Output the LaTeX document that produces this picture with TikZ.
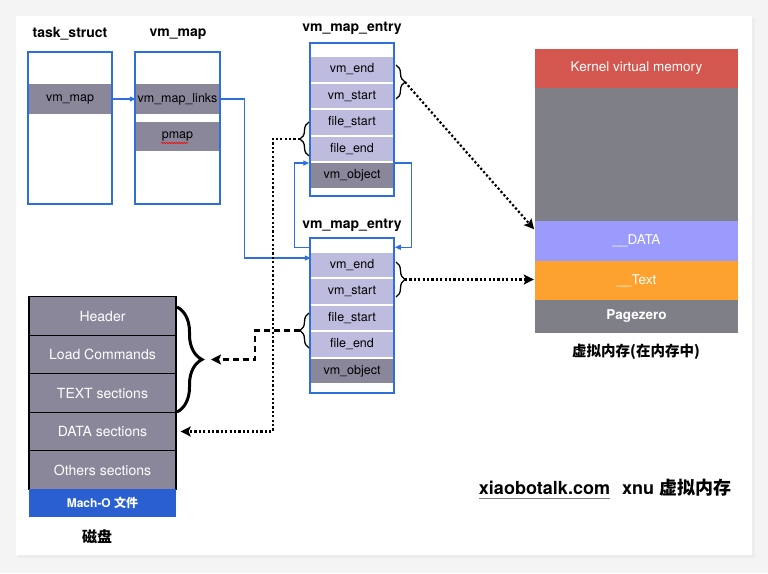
\documentclass[tikz,border=0pt]{standalone}
\usepackage{fontspec}
\setmainfont{TeX Gyre Heros}
\newfontfamily\cjk{Noto Sans CJK SC}
\usetikzlibrary{arrows.meta,decorations.pathreplacing,decorations.pathmorphing}
\definecolor{boxblue}{HTML}{2F6FDC}
\definecolor{rowlight}{HTML}{BDBCDE}
\definecolor{rowdark}{HTML}{8A879B}
\definecolor{machblue}{HTML}{2A5FD1}
\definecolor{kernred}{HTML}{D3564F}
\definecolor{memgray}{HTML}{7E7F87}
\definecolor{datablue}{HTML}{9A9BFD}
\definecolor{textorange}{HTML}{FDA22F}
\definecolor{pagebg}{HTML}{F4F4F4}
\begin{document}
\begin{tikzpicture}[x=1pt,y=-1pt,
    structbox/.style={draw=boxblue,line width=1.5pt,minimum width=84,minimum height=152},
    field/.style={fill=rowlight,minimum width=82,minimum height=24.5,font=\fontsize{12.5}{14}\selectfont},
    ptrfield/.style={field,fill=rowdark},
    title/.style={font=\fontsize{14}{16}\selectfont\bfseries},
    section/.style={draw=black,line width=1.3pt,fill=rowdark,text=white,minimum width=147,minimum height=38.5,font=\fontsize{14}{16}\selectfont},
    region/.style={text=white,minimum width=203,font=\fontsize{13.5}{16}\selectfont},
    link/.style={draw=boxblue,line width=1.2pt,-{Triangle[length=6pt,width=5pt]}},
    dotlink/.style={line width=2.2pt,dash pattern=on 2.2pt off 2.2pt,-{Stealth[length=10pt,width=10pt,inset=2pt]}},
    dashlink/.style={line width=2.2pt,dash pattern=on 6pt off 4pt,-{Stealth[length=10pt,width=10pt,inset=2pt]}},
    smallbrace/.style={decorate,decoration={brace,amplitude=9pt},line width=1.3pt},
    bigbrace/.style={decorate,decoration={brace,amplitude=25pt},line width=3pt},
    caption/.style={font=\cjk\fontsize{15}{18}\selectfont\bfseries}]
    \tikzstyle{every node}+=[inner sep=0pt]
    \fill [pagebg] (0,0) rectangle (768,573);
    \fill [black!7] (18,18) rectangle (755,558);
    \fill [white] (16,16) rectangle (752,555);
    \useasboundingbox (0,0) rectangle (768,573);
    \node [title] (tstitle) at (70,34) {task\_struct};
    \node [structbox] (ts) at (70,128) {};
    \node [ptrfield,minimum height=30] (tsvm) at (70,99) {vm\_map};
    \node [title] (vmtitle) at (178,34) {vm\_map};
    \node [structbox,minimum width=85] (vm) at (177.5,128) {};
    \node [ptrfield,minimum width=83,minimum height=30] (vmlinks) at (177.5,99) {vm\_map\_links};
    \node [ptrfield,minimum width=83,minimum height=29] (pmap) at (177.5,136.5) {pmap};
    \draw [red,line width=0.6pt,decorate,decoration={snake,amplitude=0.7pt,segment length=2.5pt}] (161,143) -- (188,143);
    \node [title] (e1title) at (352,28) {vm\_map\_entry};
    \node [structbox,minimum height=153] (e1) at (352,119.5) {};
    \node [field] (e1end) at (352,69.5) {vm\_end};
    \node [field] (e1start) at (352,96) {vm\_start};
    \node [field] (e1fstart) at (352,122.5) {file\_start};
    \node [field] (e1fend) at (352,149) {file\_end};
    \node [ptrfield] (e1obj) at (352,175.5) {vm\_object};
    \node [title] (e2title) at (352,225) {vm\_map\_entry};
    \node [structbox,minimum height=155] (e2) at (352,315.5) {};
    \node [field] (e2end) at (352,265) {vm\_end};
    \node [field] (e2start) at (352,291.5) {vm\_start};
    \node [field] (e2fstart) at (352,318) {file\_start};
    \node [field] (e2fend) at (352,344.5) {file\_end};
    \node [ptrfield] (e2obj) at (352,371) {vm\_object};
    \node [section] (header) at (102.5,316) {Header};
    \node [section] (loadcmd) at (102.5,354.5) {Load Commands};
    \node [section] (textsec) at (102.5,393) {TEXT sections};
    \node [section] (datasec) at (102.5,431.5) {DATA sections};
    \node [section] (othersec) at (102.5,470) {Others sections};
    \node [fill=machblue,text=white,minimum width=147,minimum height=28,font=\fontsize{12}{14}\selectfont\bfseries] (macho) at (102.5,503) {Mach-O {\cjk 文件}};
    \node [caption] (disk) at (97,537) {磁盘};
    \node [region,fill=kernred,minimum height=39] (kernel) at (636.5,68.5) {Kernel virtual memory};
    \node [region,fill=memgray,minimum height=133] (free) at (636.5,154.5) {};
    \node [region,fill=datablue,minimum height=40] (data) at (636.5,241) {\_\_DATA};
    \node [region,fill=textorange,minimum height=39] (textseg) at (636.5,280.5) {\_\_Text};
    \node [region,fill=memgray,minimum height=33,font=\fontsize{13.5}{16}\selectfont\bfseries] (pagezero) at (636.5,316.5) {Pagezero};
    \node [caption,font=\cjk\fontsize{14.5}{17}\selectfont\bfseries] (vmem) at (636,352) {虚拟内存(在内存中)};
    \node [font=\fontsize{18}{20}\selectfont\bfseries] (url) at (544.5,488) {xiaobotalk.com};
    \node [font=\fontsize{18}{20}\selectfont\bfseries] (brand) at (676.5,488) {xnu {\cjk 虚拟内存}};
    \draw [gray,line width=1.5pt] ([yshift=-4pt]url.base west) -- ([yshift=-4pt]url.base east);
    \draw [smallbrace] (396,65) -- (396,99);
    \coordinate (b1r) at (405,82);
    \draw [smallbrace] (309,156) -- (309,122);
    \coordinate (b1l) at (300,139);
    \draw [smallbrace] (396,262) -- (396,297);
    \coordinate (b2r) at (405,279.5);
    \draw [smallbrace] (309,348) -- (309,313);
    \coordinate (b2l) at (300,330.5);
    \draw [bigbrace] (177,307) -- (177,412);
    \coordinate (bigtip) at (203,359.5);
    \draw [link] (tsvm.east) -- (vmlinks.west);
    \draw [link] (vmlinks.east) -- ++(25,0) |- ([yshift=7pt]e2end.west);
    \draw [link] (e1obj.north -| e1.east) -- ++(17,0) |- ([yshift=-10pt]e2.north east);
    \draw [link] ([yshift=-10pt]e2.north west) -- ++(-15,0) |- (e1obj.north -| e1.west);
    \draw [dotlink,shorten >=1pt] (b1r) -- ([yshift=11pt]data.west);
    \draw [dotlink,shorten >=1pt] (b2r) -- (b2r -| textseg.west);
    \draw [dotlink,shorten >=4pt] (b1l) -| ([xshift=96pt]datasec.east) -- (datasec.east);
    \draw [dashlink,shorten >=8pt] (b2l) -| ([xshift=52pt]bigtip) -- (bigtip);
\end{tikzpicture}
\end{document}
